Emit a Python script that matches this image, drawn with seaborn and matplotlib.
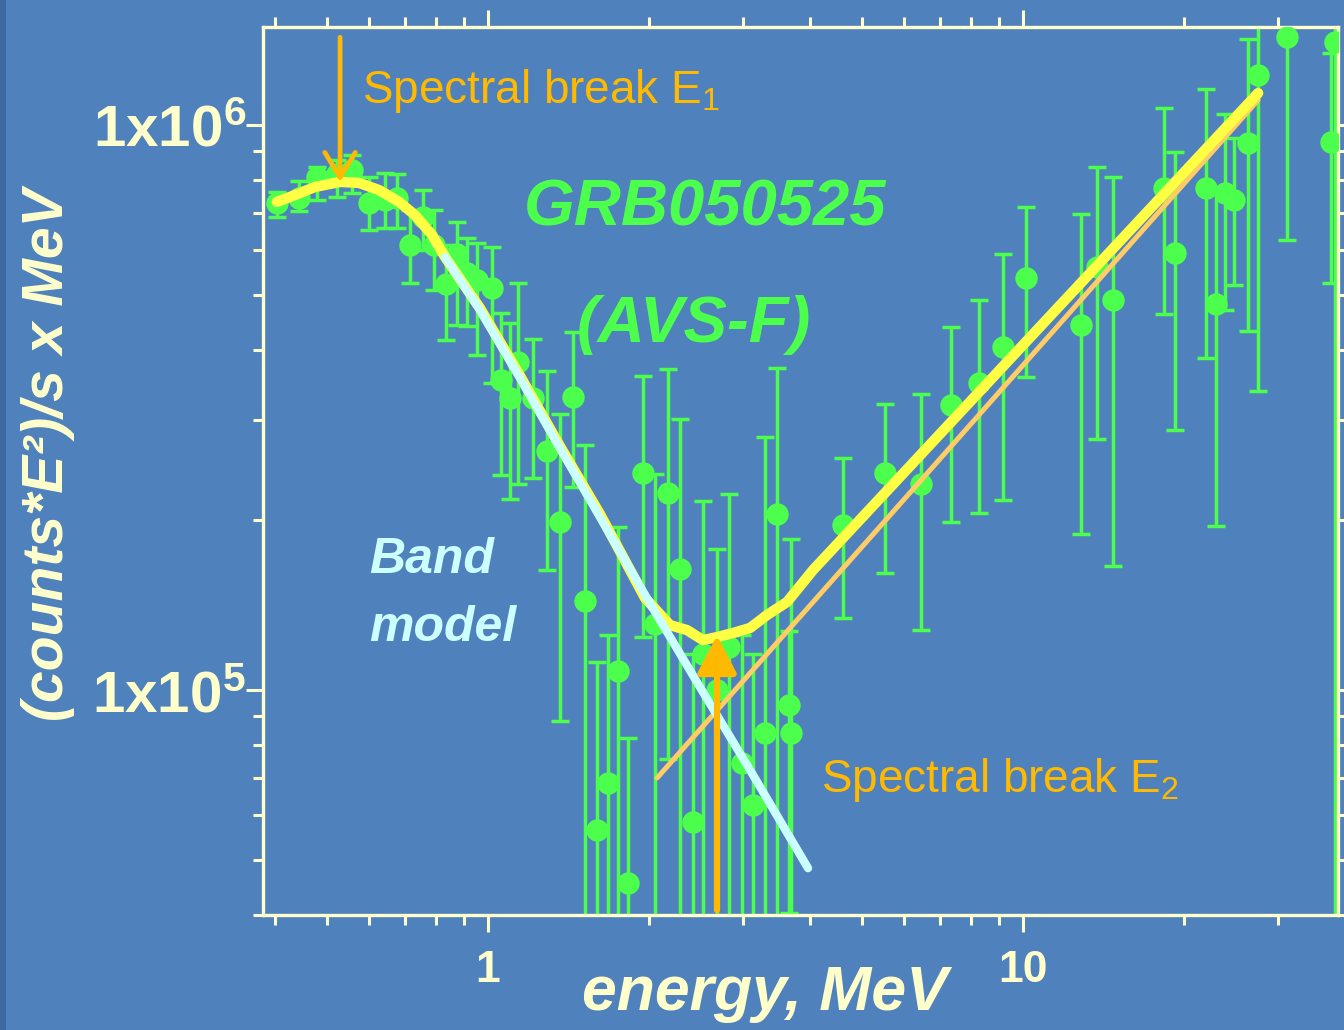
import numpy as np
import pandas as pd
import matplotlib
matplotlib.use("Agg")
import matplotlib.pyplot as plt
from matplotlib import font_manager as fm
from matplotlib.ticker import LogLocator, NullFormatter
from matplotlib.patches import Rectangle
import seaborn as sns

# ---------------- data ----------------
energy = [0.403, 0.443, 0.479, 0.522, 0.557, 0.599, 0.642, 0.676, 0.715, 0.756,
          0.793, 0.835, 0.875, 0.914, 0.954, 1.017, 1.057, 1.099, 1.138, 1.214,
          1.289, 1.363, 1.441, 1.518, 1.598, 1.676, 1.750, 1.827, 1.949, 2.052,
          2.170, 2.285, 2.416, 2.522, 2.679, 2.821, 2.984, 3.129, 3.295, 3.469,
          3.65, 3.69, 4.609, 5.522, 6.447, 7.335, 8.277, 9.175, 10.13, 12.84,
          13.75, 14.73, 18.34, 19.24, 21.99, 22.95, 23.85, 24.80, 26.34, 27.50,
          31.15, 37.6, 38.3]
flux = [7.28e5, 7.43e5, 8.09e5, 8.19e5, 8.32e5, 7.28e5, 7.37e5, 7.43e5, 6.13e5, 6.87e5,
        6.13e5, 5.23e5, 5.91e5, 5.47e5, 5.32e5, 5.15e5, 3.54e5, 3.29e5, 3.81e5, 3.29e5,
        2.65e5, 1.98e5, 3.30e5, 1.44e5, 5.65e4, 6.85e4, 1.08e5, 4.55e4, 2.42e5, 1.31e5,
        2.23e5, 1.64e5, 5.84e4, 1.16e5, 1.00e5, 1.19e5, 7.43e4, 6.26e4, 8.39e4, 2.05e5,
        9.41e4, 8.39e4, 1.96e5, 2.42e5, 2.32e5, 3.20e5, 3.49e5, 4.05e5, 5.36e5, 4.42e5,
        5.61e5, 4.90e5, 7.74e5, 5.94e5, 7.74e5, 4.82e5, 7.58e5, 7.37e5, 9.29e5, 1.226e6,
        1.43e6, 9.33e5, 1.40e6]
flux_hi = [7.61e5, 7.96e5, 8.43e5, 8.67e5, 8.85e5, 8.09e5, 8.22e5, 8.19e5, 7.07e5, 7.67e5,
           7.07e5, 6.13e5, 6.73e5, 6.31e5, 6.18e5, 6.08e5, 4.65e5, 4.46e5, 5.25e5, 4.18e5,
           3.67e5, 3.08e5, 4.30e5, 2.71e5, 1.12e5, 1.25e5, 1.94e5, 8.22e4, 3.60e5, 2.41e5,
           3.70e5, 3.02e5, 1.16e5, 2.16e5, 1.78e5, 2.22e5, 1.25e5, 1.16e5, 2.80e5, 3.71e5,
           1.27e5, 1.85e5, 2.57e5, 3.21e5, 3.34e5, 4.39e5, 4.90e5, 5.91e5, 7.16e5, 6.96e5,
           8.43e5, 8.09e5, 1.072e6, 8.96e5, 1.158e6, 7.74e5, 1.046e6, 9.48e5, 1.42e6, 2.0e6,
           2.0e6, 1.341e6, 2.0e6]
flux_lo = [6.87e5, 7.04e5, 7.37e5, 7.46e5, 7.58e5, 6.52e5, 6.57e5, 6.57e5, 5.25e5, 6.01e5,
           5.11e5, 4.16e5, 4.43e5, 4.41e5, 3.92e5, 3.49e5, 2.40e5, 2.18e5, 2.32e5, 2.37e5,
           1.63e5, 8.8e4, 2.29e5, 3e4, 3e4, 3e4, 3e4, 3e4, 1.24e5, 3e4,
           7.55e4, 3e4, 3e4, 3e4, 3e4, 3e4, 3e4, 3e4, 3e4, 3e4,
           4.03e4, 3e4, 1.34e5, 1.61e5, 1.28e5, 1.98e5, 2.06e5, 2.17e5, 3.58e5, 1.89e5,
           2.78e5, 1.66e5, 4.63e5, 2.88e5, 3.87e5, 1.95e5, 4.71e5, 5.21e5, 4.32e5, 3.38e5,
           6.26e5, 5.25e5, 3e4]

# total model (yellow)
total_E = [0.403, 0.436, 0.475, 0.529, 0.574, 0.626, 0.682, 0.730, 0.786, 0.831,
           0.966, 1.148, 1.363, 1.619, 1.966, 2.189, 2.355, 2.522, 2.679, 2.871,
           3.089, 3.323, 3.622, 4.050, 27.50]
total_F = [7.31e5, 7.52e5, 7.77e5, 7.93e5, 7.90e5, 7.67e5, 7.31e5, 6.93e5, 6.39e5, 5.84e5,
           4.74e5, 3.595e5, 2.70e5, 2.048e5, 1.455e5, 1.303e5, 1.277e5, 1.226e5, 1.241e5, 1.262e5,
           1.288e5, 1.358e5, 1.432e5, 1.631e5, 1.139e6]
# Band model (light cyan)
band_E = [0.831, 0.966, 1.148, 1.363, 1.619, 1.991, 2.490, 3.089, 3.964]
band_F = [5.84e5, 4.705e5, 3.566e5, 2.68e5, 2.024e5, 1.443e5, 1.012e5, 7.22e4, 4.84e4]
# hard power-law component (light orange)
pl_E = [2.070, 27.50]
pl_F = [6.99e4, 1.107e6]

# spectral break markers
e1_energy, e1_from, e1_to = 0.529, 1.43e6, 7.93e5
e2_energy, e2_from, e2_to = 2.679, 4.08e4, 1.25e5

x_ticks = [1, 10]
x_ticklabels = ["1", "10"]
y_ticks = [1e5, 1e6]
y_ticklabels = ["1x10$^\\mathregular{5}$", "1x10$^\\mathregular{6}$"]

# ---------------- style ----------------
bg = "#4F81BD"
cream = "#FFFFCC"
green = "#4CFF4C"
orange = "#FFB900"
yellow = "#FFFF44"
cyan = "#CCFFFF"
pl_col = "#FFCC66"


def has_font(name):
    try:
        fm.findfont(fm.FontProperties(family=name), fallback_to_default=False)
        return True
    except Exception:
        return False


NARROW = "Liberation Sans Narrow" if has_font("Liberation Sans Narrow") else "Liberation Sans"
narrow_size = 40 if NARROW == "Liberation Sans Narrow" else 33

sns.set_theme(style="ticks")
plt.rcParams["font.family"] = ["Liberation Sans", "DejaVu Sans"]
plt.rcParams["mathtext.fontset"] = "custom"
plt.rcParams["mathtext.rm"] = "Liberation Sans"
plt.rcParams["mathtext.bf"] = "Liberation Sans:bold"
plt.rcParams["mathtext.it"] = "Liberation Sans:italic"

fig = plt.figure(figsize=(13.44, 10.30), dpi=100, facecolor=bg)
fig.patches.append(Rectangle((0, 0), 6 / 1344, 1, transform=fig.transFigure,
                             facecolor="#3E6AA0", edgecolor="none", zorder=0))
ax = fig.add_axes([0.1957, 0.1117, 0.7999, 0.8621])
ax.set_facecolor(bg)
ax.set_xscale("log")
ax.set_yscale("log")

df = pd.DataFrame({"energy": energy, "flux": flux, "hi": flux_hi, "lo": flux_lo})
yerr = np.vstack([df["flux"] - df["lo"], df["hi"] - df["flux"]])
ax.errorbar(df["energy"], df["flux"], yerr=yerr, fmt="none", ecolor=green,
            elinewidth=2.5, capsize=6.5, capthick=2.5, zorder=2)
sns.scatterplot(data=df, x="energy", y="flux", ax=ax, color=green, s=260,
                linewidth=0, zorder=3, legend=False)

sns.lineplot(x=pl_E, y=pl_F, ax=ax, color=pl_col, linewidth=3.6, sort=False,
             estimator=None, zorder=4, solid_capstyle="round")
sns.lineplot(x=total_E, y=total_F, ax=ax, color=yellow, linewidth=7.5, sort=False,
             estimator=None, zorder=5, solid_capstyle="round", solid_joinstyle="round")
sns.lineplot(x=band_E, y=band_F, ax=ax, color=cyan, linewidth=6, sort=False,
             estimator=None, zorder=6, solid_capstyle="round")

ax.annotate("", xy=(e1_energy, e1_to), xytext=(e1_energy, e1_from),
            arrowprops=dict(arrowstyle="->,head_length=0.9,head_width=0.55",
                            color=orange, lw=3.4, shrinkA=0, shrinkB=0, mutation_scale=20),
            zorder=7)
ax.annotate("", xy=(e2_energy, e2_to), xytext=(e2_energy, e2_from),
            arrowprops=dict(arrowstyle="-|>,head_length=1.15,head_width=0.6",
                            color=orange, lw=4.5, shrinkA=0, shrinkB=0, mutation_scale=20),
            zorder=7)

ax.set_xlim(0.3797, 38.8)
ax.set_ylim(4.0e4, 1.491e6)

ax.set_xticks(x_ticks)
ax.set_xticklabels(x_ticklabels)
ax.xaxis.set_minor_locator(LogLocator(base=10, subs=np.arange(2, 10)))
ax.xaxis.set_minor_formatter(NullFormatter())
ax.set_yticks(y_ticks)
ax.set_yticklabels(y_ticklabels)
ax.yaxis.set_minor_locator(LogLocator(base=10, subs=np.arange(2, 10)))
ax.yaxis.set_minor_formatter(NullFormatter())

ax.tick_params(which="both", direction="out", color=cream, width=2.2,
               top=True, right=True, labeltop=False, labelright=False)
ax.tick_params(which="major", length=12)
ax.tick_params(which="minor", length=7)
ax.tick_params(axis="x", which="major", labelsize=32, labelcolor=cream, pad=13)
ax.tick_params(axis="y", which="major", labelsize=42, labelcolor=cream, pad=0)
for lab in ax.get_xticklabels() + ax.get_yticklabels():
    lab.set_fontweight("bold")
for sp in ax.spines.values():
    sp.set_color(cream)
    sp.set_linewidth(2.4)
    sp.set_visible(True)

ax.set_xlabel("energy, MeV", fontsize=45, fontweight="bold", fontstyle="italic",
              color=cream, va="center")
ax.xaxis.set_label_coords(0.467, -0.088)
ax.set_ylabel("(counts*E²)/s x MeV", fontsize=41, fontweight="bold",
              fontstyle="italic", color=cream, va="center")
ax.yaxis.set_label_coords(-0.20, 0.518)

ax.text(0.092, 0.9144, "Spectral break E$_\\mathregular{1}$", transform=ax.transAxes,
        family=[NARROW, "Liberation Sans"], fontsize=narrow_size, color=orange,
        ha="left", va="baseline", zorder=8)
ax.text(0.519, 0.1385, "Spectral break E$_\\mathregular{2}$", transform=ax.transAxes,
        family=[NARROW, "Liberation Sans"], fontsize=narrow_size, color=orange,
        ha="left", va="baseline", zorder=8)
ax.text(0.411, 0.777, "GRB050525", transform=ax.transAxes, fontsize=47,
        fontweight="bold", fontstyle="italic", color=green, ha="center", va="baseline", zorder=8)
ax.text(0.401, 0.645, "(AVS-F)", transform=ax.transAxes, fontsize=47,
        fontweight="bold", fontstyle="italic", color=green, ha="center", va="baseline", zorder=8)
ax.text(0.0986, 0.385, "Band", transform=ax.transAxes, fontsize=36,
        fontweight="bold", fontstyle="italic", color=cyan, ha="left", va="baseline", zorder=8)
ax.text(0.0986, 0.3086, "model", transform=ax.transAxes, fontsize=36,
        fontweight="bold", fontstyle="italic", color=cyan, ha="left", va="baseline", zorder=8)

fig.savefig("out.png", dpi=100, facecolor=bg)
